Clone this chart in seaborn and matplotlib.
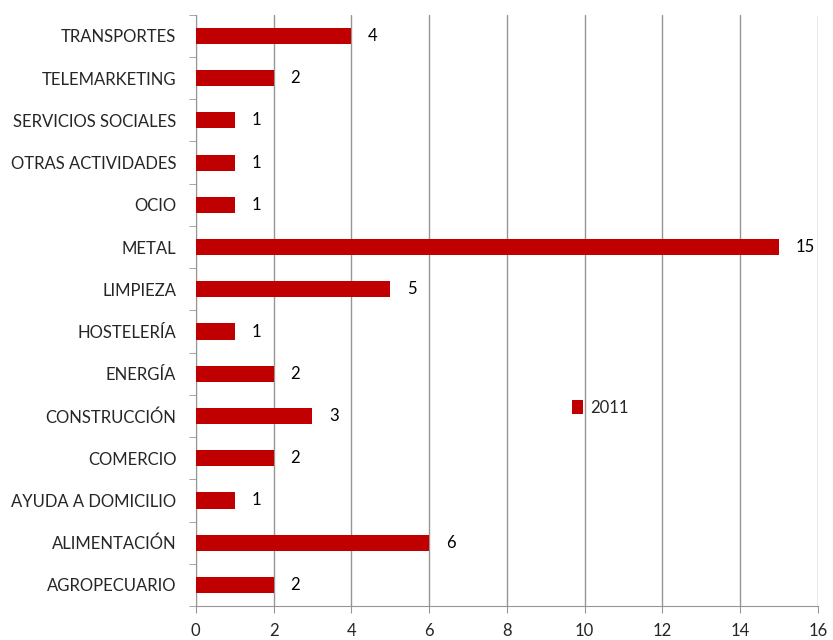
import pandas as pd
import matplotlib.pyplot as plt
import seaborn as sns

sectores = ["TRANSPORTES", "TELEMARKETING", "SERVICIOS SOCIALES", "OTRAS ACTIVIDADES",
            "OCIO", "METAL", "LIMPIEZA", "HOSTELERÍA", "ENERGÍA", "CONSTRUCCIÓN",
            "COMERCIO", "AYUDA A DOMICILIO", "ALIMENTACIÓN", "AGROPECUARIO"]
valores_2011 = [4, 2, 1, 1, 1, 15, 5, 1, 2, 3, 2, 1, 6, 2]
x_ticks = [0, 2, 4, 6, 8, 10, 12, 14, 16]

df = pd.DataFrame({"sector": sectores, "valor": valores_2011, "serie": "2011"})

sns.set_style("white")
plt.rcParams["font.family"] = ["Lato", "DejaVu Sans"]

fig = plt.figure(figsize=(8.33, 6.4), dpi=100)
ax = fig.add_axes([0.235, 0.053, 0.747, 0.924])

sns.barplot(data=df, x="valor", y="sector", hue="serie", orient="h",
            palette=["#C00000"], saturation=1, width=0.38, linewidth=0,
            ax=ax, zorder=3)

for c in ax.containers:
    ax.bar_label(c, padding=12, fontsize=12, color="black")

ax.set_xlim(0, 16)
ax.set_xticks(x_ticks)
ax.set_ylim(13.5, -0.5)
ax.set_xlabel("")
ax.set_ylabel("")
ax.grid(axis="x", color="#969696", linewidth=1, zorder=0)
ax.set_axisbelow(True)
for s in ["top", "right"]:
    ax.spines[s].set_visible(False)
for s in ["left", "bottom"]:
    ax.spines[s].set_color("#969696")

# category boundary ticks on y axis
ax.set_yticks([i + 0.5 for i in range(-1, 14)], minor=True)
ax.tick_params(axis="y", which="major", length=0, pad=14, labelsize=12)
ax.tick_params(axis="y", which="minor", length=5, color="#969696", left=True)
ax.tick_params(axis="x", length=5, color="#969696", bottom=True, labelsize=12, pad=7)

ax.legend(loc="center left", bbox_to_anchor=(0.58, 0.335), frameon=False,
          fontsize=12, handlelength=0.7, handleheight=0.9, handletextpad=0.4)

fig.savefig("out.png", dpi=100)
